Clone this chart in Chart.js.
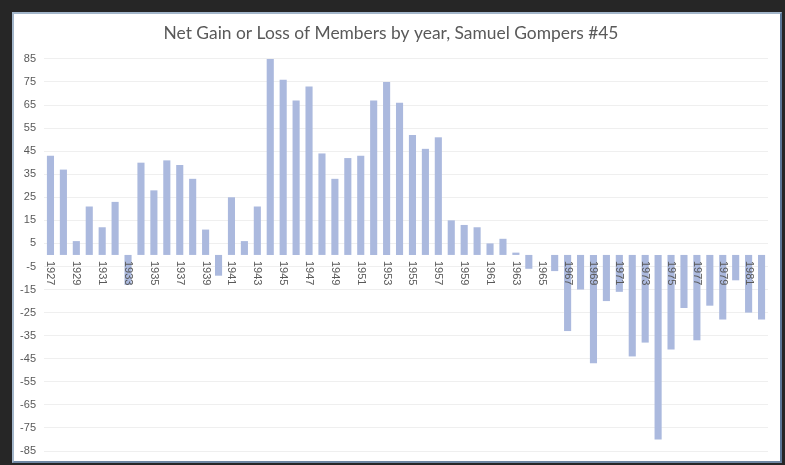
<!DOCTYPE html>
<html>
<head>
<meta charset="utf-8">
<script src="https://cdn.jsdelivr.net/npm/chart.js@4.4.6/dist/chart.umd.min.js"></script>
<style>
  html, body { margin: 0; padding: 0; background: #262626; }
  #frame {
    position: absolute; left: 12px; top: 12px;
    width: 766px; height: 447px;
    background: #fff;
    border-style: solid; border-width: 2px;
    border-color: #a3b6ca #5b7798 #6f87a3 #a3b6ca;
  }
  canvas { display: block; }
</style>
</head>
<body>
<div id="frame"><canvas id="chart" width="766" height="447"></canvas></div>
<script>
  const years = [];
  for (let y = 1927; y <= 1982; y++) years.push(String(y));

  const netChange = [
    43, 37, 6, 21, 12, 23, -13, 40, 28, 41, 39, 33, 11, -9, 25, 6, 21, 85,
    76, 67, 73, 44, 33, 42, 43, 67, 75, 66, 52, 46, 51, 15, 13, 12, 5, 7,
    1, -6, 0, -7, -33, -15, -47, -20, -16, -44, -38, -80, -41, -23, -37, -22,
    -28, -11, -25, -28
  ];

  const yTicks = { min: -85, max: 85, step: 10 };

  // year labels hang under the zero line, reading top to bottom
  const yearLabels = {
    id: "yearLabels",
    afterDatasetsDraw(chart) {
      const { ctx, scales } = chart;
      const zero = scales.y.getPixelForValue(0);
      ctx.save();
      ctx.font = "11px 'Liberation Sans', Arial, sans-serif";
      ctx.fillStyle = "#595959";
      ctx.textAlign = "left";
      ctx.textBaseline = "middle";
      years.forEach((label, i) => {
        if (i % 2 !== 0) return;
        const x = scales.x.getPixelForValue(i);
        ctx.save();
        ctx.translate(x, zero + 6);
        ctx.rotate(Math.PI / 2);
        ctx.fillText(label, 0, 0);
        ctx.restore();
      });
      ctx.restore();
    }
  };

  new Chart(document.getElementById("chart"), {
    type: "bar",
    data: {
      labels: years,
      datasets: [{
        data: netChange,
        backgroundColor: "#abb9de",
        barPercentage: 0.55,
        categoryPercentage: 1
      }]
    },
    options: {
      responsive: false,
      animation: false,
      layout: { padding: { left: 0, right: 12, top: 0, bottom: 10 } },
      plugins: {
        legend: { display: false },
        tooltip: { enabled: false },
        title: {
          display: true,
          text: "Net Gain or Loss of Members by year, Samuel Gompers #45",
          color: "#595959",
          font: { family: "Lato, 'Open Sans', sans-serif", size: 17.4, weight: "normal" },
          padding: { top: 9, bottom: 15 }
        }
      },
      scales: {
        x: { display: false },
        y: {
          min: yTicks.min,
          max: yTicks.max,
          afterFit(scale) {
            scale.width = 30;
            scale.paddingTop = 0;
            scale.paddingBottom = 0;
          },
          border: { display: false },
          grid: {
            drawTicks: false,
            color: (c) => (c.tick && c.tick.value === 0 ? "#bfbfbf" : "#efefef"),
            lineWidth: (c) => (c.tick && c.tick.value === 0 ? 2 : 1)
          },
          ticks: {
            stepSize: yTicks.step,
            padding: 8,
            color: "#595959",
            font: { family: "'Liberation Sans', Arial, sans-serif", size: 11 }
          }
        }
      }
    },
    plugins: [yearLabels]
  });
</script>
</body>
</html>
